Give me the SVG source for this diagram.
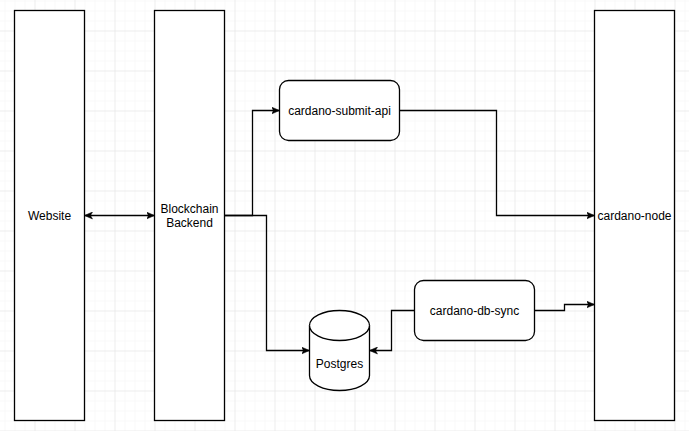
<svg xmlns="http://www.w3.org/2000/svg" width="689" height="431" viewBox="0 0 689 431">
<defs>
<pattern id="minor" x="4.5" y="0.5" width="10" height="10" patternUnits="userSpaceOnUse">
<path d="M0,0 H10 M0,0 V10" fill="none" stroke="#f3f3f3" stroke-width="1"/>
</pattern>
<pattern id="major" x="34.5" y="30.5" width="40" height="40" patternUnits="userSpaceOnUse">
<path d="M0,0 H40 M0,0 V40" fill="none" stroke="#e4e4e4" stroke-width="1"/>
</pattern>
<marker id="arr" viewBox="0 0 8 8" markerUnits="userSpaceOnUse" markerWidth="8" markerHeight="8" refX="8" refY="4" orient="auto-start-reverse">
<path d="M0,0.5 L8,4 L0,7.5 L2,4 z" fill="#000" stroke="#000" stroke-width="0.5"/>
</marker>
</defs>
<style>
.box{fill:#fff;stroke:#000;stroke-width:1.3}
.lbl{font-family:"Liberation Sans",Arial,sans-serif;font-size:12px;fill:#000;text-anchor:middle;dominant-baseline:central}
.edge{fill:none;stroke:#000;stroke-width:1.3}
</style>
<rect width="689" height="431" fill="#fff"/>
<rect width="689" height="431" fill="url(#minor)"/>
<rect width="689" height="431" fill="url(#major)"/>
<g id="website">
<rect class="box" x="14.5" y="10.5" width="70" height="410"/>
<text class="lbl" x="49.5" y="215.5">Website</text>
</g>
<g id="backend">
<rect class="box" x="154.5" y="10.5" width="70" height="410"/>
<text class="lbl" x="189.5" y="209">Blockchain</text>
<text class="lbl" x="189.5" y="222.5">Backend</text>
</g>
<g id="submit-api">
<rect class="box" x="279.5" y="80.5" width="120" height="60" rx="9" ry="9"/>
<text class="lbl" x="339.5" y="110.5">cardano-submit-api</text>
</g>
<g id="db-sync">
<rect class="box" x="414.5" y="280.5" width="120" height="60" rx="9" ry="9"/>
<text class="lbl" x="474.5" y="310.5">cardano-db-sync</text>
</g>
<g id="postgres">
<path class="box" d="M309.5,325.5 A30,15 0 0 1 369.5,325.5 V375.5 A30,15 0 0 1 309.5,375.5 Z"/>
<path class="box" fill="none" d="M309.5,325.5 A30,15 0 0 0 369.5,325.5"/>
<text class="lbl" x="339.5" y="363.5">Postgres</text>
</g>
<g id="cardano-node">
<rect class="box" x="594.5" y="10.5" width="80" height="410"/>
<text class="lbl" x="634.5" y="215.5">cardano-node</text>
</g>
<g id="connectors">
<path class="edge" d="M84.5,215.5 H154.5" marker-start="url(#arr)" marker-end="url(#arr)"/>
<path class="edge" d="M224.5,215.5 H252.5 V110.5 H279.5" marker-end="url(#arr)"/>
<path class="edge" d="M224.5,215.5 H266.5 V350.5 H309.5" marker-end="url(#arr)"/>
<path class="edge" d="M399.5,110.5 H496.5 V215.5 H594.5" marker-end="url(#arr)"/>
<path class="edge" d="M414.5,310.5 H391.5 V350.5 H369.5" marker-end="url(#arr)"/>
<path class="edge" d="M534.5,310.5 H564.5 V304.5 H594.5" marker-end="url(#arr)"/>
</g>
</svg>
